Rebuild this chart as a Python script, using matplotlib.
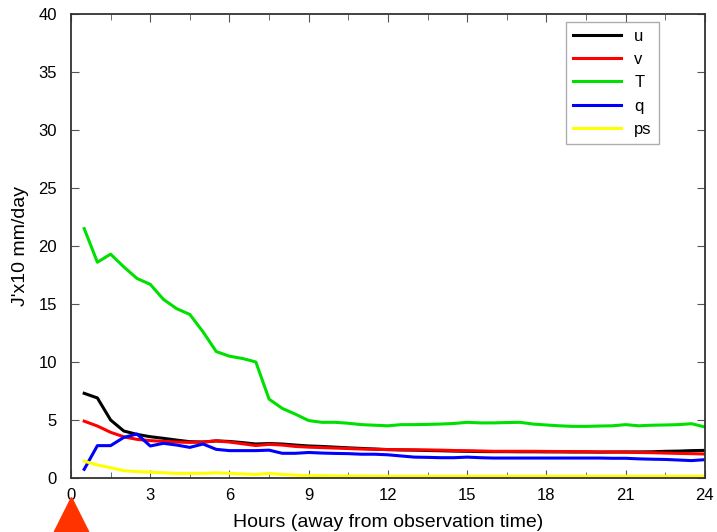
import numpy as np
import matplotlib
matplotlib.use("Agg")
import matplotlib.pyplot as plt

plt.rcParams['font.family'] = ['Liberation Sans', 'DejaVu Sans']

# horas y series
hours = [0.5, 1.0, 1.5, 2.0, 2.5, 3.0, 3.5, 4.0, 4.5, 5.0, 5.5, 6.0,
         6.5, 7.0, 7.5, 8.0, 8.5, 9.0, 9.5, 10.0, 10.5, 11.0, 11.5, 12.0,
         12.5, 13.0, 13.5, 14.0, 14.5, 15.0, 15.5, 16.0, 16.5, 17.0, 17.5, 18.0,
         18.5, 19.0, 19.5, 20.0, 20.5, 21.0, 21.5, 22.0, 22.5, 23.0, 23.5, 24.0]

u = [7.3, 6.9, 5.0, 4.05, 3.76, 3.56, 3.42, 3.27, 3.13, 3.1, 3.2, 3.15,
     3.05, 2.93, 2.97, 2.93, 2.84, 2.76, 2.72, 2.66, 2.6, 2.55, 2.5, 2.45,
     2.42, 2.4, 2.37, 2.35, 2.32, 2.3, 2.28, 2.27, 2.27, 2.26, 2.26, 2.25,
     2.25, 2.24, 2.24, 2.23, 2.24, 2.25, 2.25, 2.26, 2.3, 2.32, 2.36, 2.38]
v = [4.9, 4.48, 3.94, 3.55, 3.33, 3.22, 3.16, 3.1, 3.07, 3.1, 3.2, 3.1,
     2.95, 2.8, 2.9, 2.84, 2.72, 2.66, 2.62, 2.58, 2.54, 2.5, 2.47, 2.45,
     2.44, 2.43, 2.42, 2.4, 2.37, 2.35, 2.33, 2.3, 2.3, 2.3, 2.3, 2.29,
     2.28, 2.27, 2.27, 2.25, 2.24, 2.22, 2.2, 2.18, 2.15, 2.12, 2.1, 2.07]
T = [21.5, 18.6, 19.3, 18.2, 17.2, 16.7, 15.4, 14.6, 14.1, 12.6, 10.9, 10.5,
     10.3, 10.0, 6.8, 6.0, 5.5, 4.95, 4.8, 4.8, 4.72, 4.6, 4.55, 4.5,
     4.6, 4.6, 4.62, 4.65, 4.7, 4.8, 4.75, 4.75, 4.78, 4.8, 4.65, 4.57,
     4.5, 4.45, 4.45, 4.48, 4.5, 4.6, 4.5, 4.55, 4.57, 4.6, 4.68, 4.4]
q = [0.75, 2.79, 2.79, 3.5, 3.79, 2.76, 2.99, 2.84, 2.64, 2.93, 2.47, 2.36,
     2.36, 2.36, 2.4, 2.13, 2.13, 2.2, 2.15, 2.12, 2.1, 2.05, 2.05, 2.0,
     1.9, 1.8, 1.78, 1.75, 1.75, 1.8, 1.75, 1.72, 1.72, 1.72, 1.72, 1.72,
     1.72, 1.72, 1.72, 1.72, 1.7, 1.7, 1.65, 1.62, 1.6, 1.55, 1.5, 1.58]
ps = [1.45, 1.12, 0.89, 0.63, 0.55, 0.5, 0.45, 0.4, 0.4, 0.4, 0.45, 0.4,
      0.35, 0.3, 0.4, 0.3, 0.25, 0.2, 0.2, 0.18, 0.17, 0.17, 0.16, 0.15,
      0.15, 0.15, 0.15, 0.15, 0.15, 0.15, 0.15, 0.15, 0.15, 0.15, 0.15, 0.15,
      0.15, 0.15, 0.15, 0.15, 0.15, 0.15, 0.15, 0.15, 0.15, 0.15, 0.15, 0.15]

series = [("u", u, "black"), ("v", v, "#ff0000"), ("T", T, "#00e000"),
          ("q", q, "#0000ff"), ("ps", ps, "#ffff00")]

fig = plt.figure(figsize=(7.17, 5.32), dpi=100)
ax = fig.add_axes([0.099, 0.1015, 0.884, 0.8722])

for name, vals, col in series:
    ax.plot(hours, vals, color=col, lw=2.2, label=name)

ax.set_xlim(0, 24)
ax.set_ylim(0, 40)
ax.set_xticks(np.arange(0, 25, 3))
ax.set_xticks(np.arange(0, 24.1, 1.5), minor=True)
ax.set_yticks(np.arange(0, 41, 5))
ax.tick_params(which='both', direction='in', top=True, right=True,
               color='#555555', labelsize=12)
ax.tick_params(axis='x', pad=7)
ax.tick_params(axis='y', pad=10)
ax.tick_params(which='major', length=6)
ax.tick_params(which='minor', length=4)
for sp in ax.spines.values():
    sp.set_color('#333333')
    sp.set_linewidth(1.3)

ax.set_xlabel("Hours (away from observation time)", fontsize=14, labelpad=8)
ax.set_ylabel("J'x10 mm/day", fontsize=14, labelpad=7)

leg = ax.legend(loc='upper right', bbox_to_anchor=(0.927, 0.983), borderaxespad=0,
                fancybox=False, edgecolor='#999999', fontsize=12,
                handlelength=2.9, labelspacing=0.5, borderpad=0.4)
leg.get_frame().set_linewidth(1.0)

# marcador de tiempo de observacion
ax.plot([0], [-3.15], marker='^', ms=26.5, color='#ff3300', clip_on=False)

fig.savefig("out.png", dpi=100)
